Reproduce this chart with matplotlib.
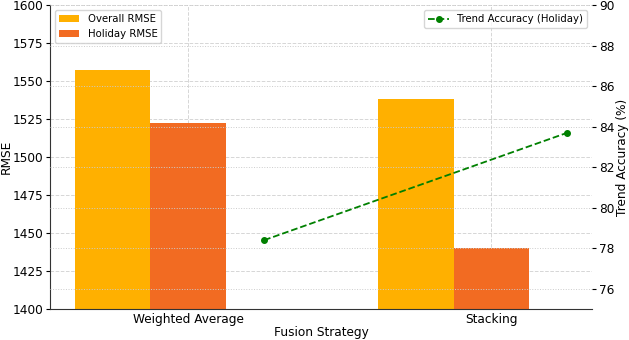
import numpy as np
import matplotlib.pyplot as plt

strategies = ["Weighted Average", "Stacking"]
overall_rmse = [1557.5, 1538.5]
holiday_rmse = [1522.5, 1440.5]
trend_acc = [78.4, 83.7]

x = np.arange(len(strategies))
w = 0.25

plt.rcParams["font.size"] = 8.7
fig, ax = plt.subplots(figsize=(6.29, 3.4), dpi=100)
fig.subplots_adjust(left=0.0795, right=0.941, top=0.985, bottom=0.091)

ax.bar(x - w, overall_rmse, w, color="#FFB000", label="Overall RMSE")
ax.bar(x, holiday_rmse, w, color="#F26B22", label="Holiday RMSE")
ax.set_ylim(1400, 1600)
ax.set_xticks(x)
ax.set_xticklabels(strategies)
ax.set_xlabel("Fusion Strategy")
ax.set_ylabel("RMSE")
ax.xaxis.set_label_coords(0.5, -0.056)
ax.yaxis.set_label_coords(-0.068, 0.5)
ax.tick_params(axis="y", length=3, pad=2)
ax.tick_params(axis="x", direction="in", length=3, pad=3)
ax.grid(True, linestyle="--", color="#cccccc", linewidth=0.7, alpha=0.8)
ax.set_axisbelow(True)
for s in ["top", "right"]:
    ax.spines[s].set_visible(False)
ax.spines["left"].set_color("#333333")
ax.spines["bottom"].set_color("#333333")
ax.legend(loc="upper left", fontsize=7.3)

ax2 = ax.twinx()
ax2.plot(x + w, trend_acc, "g--o", markersize=4, linewidth=1.3, label="Trend Accuracy (Holiday)")
ax2.set_ylim(75, 90)
ax2.set_ylabel("Trend Accuracy (%)")
ax2.yaxis.set_label_coords(1.044, 0.5)
ax2.tick_params(length=3, pad=2)
ax2.grid(True, axis="y", linestyle=":", color="#cccccc", linewidth=0.7)
for s in ["top", "right", "left", "bottom"]:
    ax2.spines[s].set_visible(False)
ax2.legend(loc="upper right", fontsize=7.3)

plt.savefig("out.png")
